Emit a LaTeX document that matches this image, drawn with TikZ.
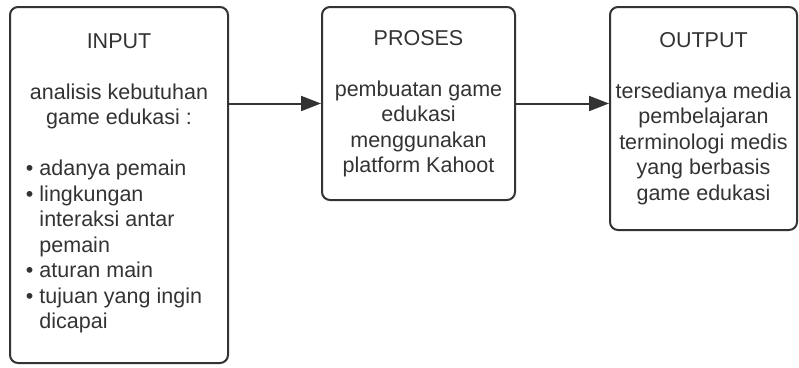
\documentclass[tikz,border=0pt]{standalone}
\usepackage{fontspec}
\setmainfont{Liberation Sans}
\usetikzlibrary{arrows.meta}
\definecolor{ink}{HTML}{333333}
\begin{document}
\begin{tikzpicture}[x=1pt,y=1pt,
  box/.style={draw=ink, line width=2pt, rounded corners=8pt, text=ink,
    font=\fontsize{21.5}{25.5}\selectfont, align=center, inner sep=0pt},
  conn/.style={draw=ink, line width=2pt, -{Triangle[length=20pt,width=15pt]}}]
\useasboundingbox (0,0) rectangle (799,-367);
\node[box, minimum width=218pt, minimum height=356pt] (input) at (119,-185)
  {INPUT\\[25.5pt]analisis kebutuhan\\game edukasi :\\[25.5pt]%
   \begin{tabular}[t]{@{}l@{\hspace{6pt}}l@{}}
   \textbullet & adanya pemain\\
   \textbullet & lingkungan\\
               & interaksi antar\\
               & pemain\\
   \textbullet & aturan main\\
   \textbullet & tujuan yang ingin\\
               & dicapai
   \end{tabular}\hspace*{10pt}};
\node[box, minimum width=193pt, minimum height=193pt] (proses) at (418.5,-103.5)
  {PROSES\\[25.5pt]pembuatan game\\edukasi\\menggunakan\\platform Kahoot};
\node[box, minimum width=187pt, minimum height=223pt] (output) at (703.5,-118.5)
  {OUTPUT\\[25.5pt]tersedianya media\\pembelajaran\\terminologi medis\\yang berbasis\\game edukasi};
\draw[conn] (input.east |- proses.west) -- (proses.west);
\draw[conn] (proses.east) -- (output.west |- proses.east);
\end{tikzpicture}
\end{document}
